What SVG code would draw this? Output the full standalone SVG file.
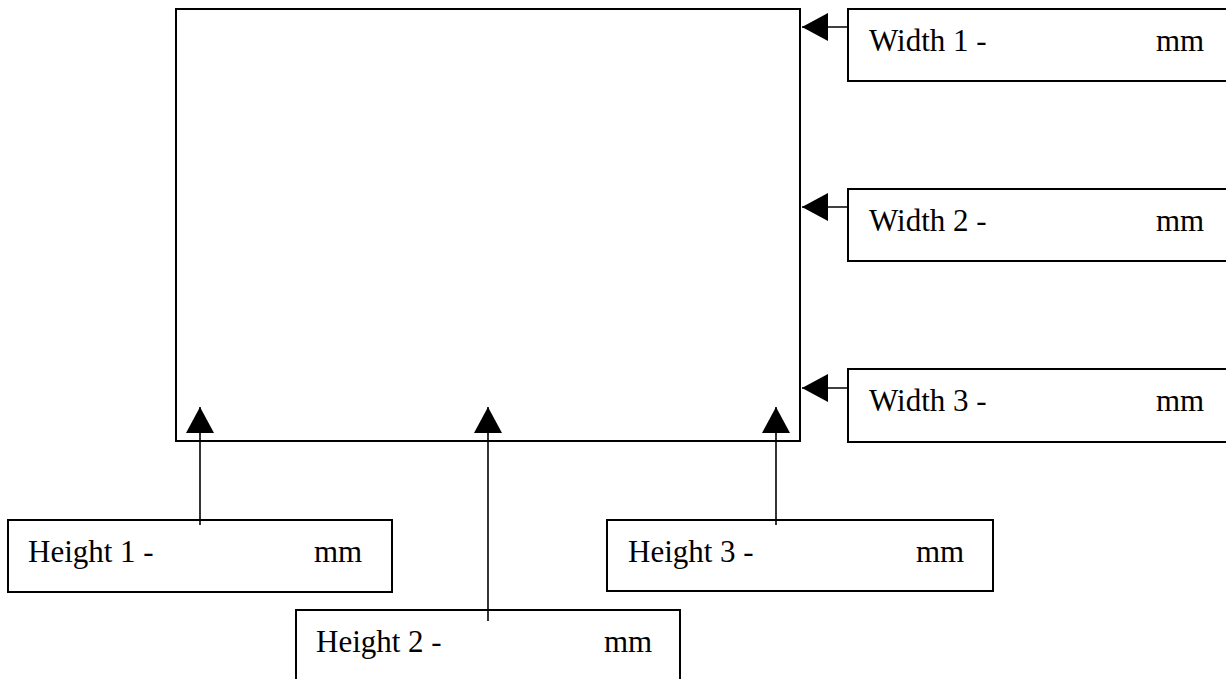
<svg xmlns="http://www.w3.org/2000/svg" width="1226" height="679" viewBox="0 0 1226 679">
<defs>
<style>
.box{fill:#fff;stroke:#000;stroke-width:2}
.lbl{font-family:"Liberation Serif","Times New Roman",serif;font-size:31px;fill:#000}
.con{stroke:#000;stroke-width:1.6;fill:none;marker-end:url(#arr)}
</style>
<marker id="arr" markerUnits="userSpaceOnUse" markerWidth="28" markerHeight="28" viewBox="0 0 26 28" refX="26" refY="14" orient="auto">
<path d="M0,0 L26,14 L0,28 Z" fill="#000"/>
</marker>
</defs>
<rect width="1226" height="679" fill="#fff"/>
<g id="main"><rect class="box" x="176" y="9" width="624" height="432"/></g>
<g id="width1"><rect class="box" x="848" y="9" width="400" height="72"/><text class="lbl" x="869" y="51">Width 1 -</text><text class="lbl" x="1156" y="51">mm</text></g>
<g id="width2"><rect class="box" x="848" y="189" width="400" height="72"/><text class="lbl" x="869" y="231">Width 2 -</text><text class="lbl" x="1156" y="231">mm</text></g>
<g id="width3"><rect class="box" x="848" y="369" width="400" height="73"/><text class="lbl" x="869" y="411">Width 3 -</text><text class="lbl" x="1156" y="411">mm</text></g>
<g id="height1"><rect class="box" x="8" y="520" width="384" height="72"/><text class="lbl" x="28" y="562">Height 1 -</text><text class="lbl" x="314" y="562">mm</text></g>
<g id="height3"><rect class="box" x="607" y="520" width="386" height="71"/><text class="lbl" x="628" y="562">Height 3 -</text><text class="lbl" x="916" y="562">mm</text></g>
<g id="height2"><rect class="box" x="296" y="610" width="384" height="90"/><text class="lbl" x="316" y="652">Height 2 -</text><text class="lbl" x="604" y="652">mm</text></g>
<g id="connectors">
<line class="con" x1="848" y1="27" x2="802" y2="27"/>
<line class="con" x1="848" y1="207" x2="802" y2="207"/>
<line class="con" x1="848" y1="388" x2="802" y2="388"/>
<line class="con" x1="200" y1="525" x2="200" y2="407"/>
<line class="con" x1="488" y1="621" x2="488" y2="407"/>
<line class="con" x1="776" y1="525" x2="776" y2="407"/>
</g>
</svg>
